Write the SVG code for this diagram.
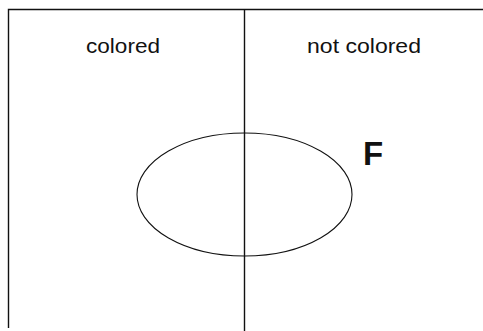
<svg xmlns="http://www.w3.org/2000/svg" width="483" height="331" viewBox="0 0 483 331">
<style>
.ln{stroke:#111;stroke-width:1.4;fill:none}
.lb{font-family:"Liberation Sans",Arial,sans-serif;font-size:21px;fill:#111}
</style>
<rect width="483" height="331" fill="#fff"/>
<g id="frame">
<path class="ln" d="M8.5,328 V9.5 H483"/>
<path class="ln" d="M244.5,9.5 V331"/>
</g>
<g id="labels">
<text class="lb" x="86" y="53" textLength="74" lengthAdjust="spacingAndGlyphs">colored</text>
<text class="lb" x="307" y="53" textLength="114" lengthAdjust="spacingAndGlyphs">not colored</text>
</g>
<g id="F">
<ellipse cx="244.5" cy="194.5" rx="107.5" ry="61.5" fill="none" stroke="#111" stroke-width="1.1"/>
<text x="363" y="165" font-family="Liberation Sans,Arial,sans-serif" font-weight="bold" font-size="33" fill="#111">F</text>
</g>
</svg>
